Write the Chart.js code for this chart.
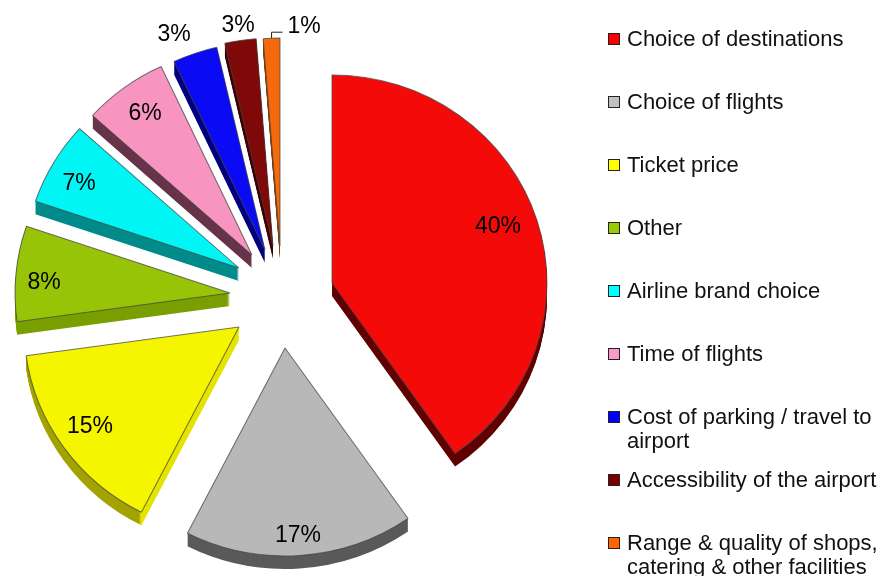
<!DOCTYPE html>
<html lang="en">
<head>
    <meta charset="UTF-8">
    <title>Reasons for choosing an airport</title>
    <script src="https://cdn.jsdelivr.net/npm/chart.js"></script>
    <style>
        body { margin: 0; background: #fff; }
        #wrap { position: relative; width: 880px; height: 576px; overflow: hidden; }
        #pieChart { display: block; }
        .legend-row { position: absolute; left: 608px; font: 22px/24px "Liberation Sans", Arial, sans-serif; color: #111; white-space: pre; }
        .legend-box { position: absolute; left: 0; top: 6px; width: 10px; height: 10px; border: 1.5px solid #222; }
        .legend-text { position: absolute; left: 19px; top: 0; }
    </style>
</head>
<body>

<div id="wrap">
    <canvas id="pieChart" width="880" height="576"></canvas>
    <div id="legend"></div>
</div>

<script>
    var labels = [
        "Choice of destinations",
        "Choice of flights",
        "Ticket price",
        "Other",
        "Airline brand choice",
        "Time of flights",
        "Cost of parking / travel to\nairport",
        "Accessibility of the airport",
        "Range & quality of shops,\ncatering & other facilities"
    ];
    // printed labels, and the slice sizes as they measure in the picture
    var shareLabels = ["40%", "17%", "15%", "8%", "7%", "6%", "3%", "3%", "1%"];
    var shares = [40.3, 17.2, 15.3, 7.4, 6.5, 6.35, 3.35, 2.35, 1.25];

    var sliceColors = ["#f50a0a", "#b8b8b8", "#f5f500", "#98c407", "#00f5f5", "#f794c0", "#0a0af5", "#7f0808", "#f56a0a"];
    var wallColors = ["#600000", "#5a5a5a", "#a3a300", "#7a9f00", "#008b8b", "#663348", "#000080", "#400000", "#8a3c00"];
    var legendColors = ["#ff0000", "#c0c0c0", "#ffff00", "#99cc00", "#00ffff", "#ff99cc", "#0000ff", "#800000", "#ff6600"];

    // how far each slice is pulled out of the pie, in px
    var pull = [[52, -12], [5, 53], [-41, 32], [-50, -2], [-41, -27], [-28, -40], [-15, -45], [-7, -49], [0, -49]];
    // where the % label sits, measured from the slice apex
    var labelPos = [[166, -58], [13, 186], [-149, 98], [-186, -12], [-160, -86], [-107, -143], [-91, -217], [-35, -222], [24, -221]];
    var depth = 13;
    // the pie is slightly wider than tall
    var squashX = 1.014;
    var squashY = 0.981;

    // moves the arcs out and draws the 3d side walls underneath them
    var explode3d = {
        id: "explode3d",
        afterDatasetsUpdate: function(chart) {
            chart.getDatasetMeta(0).data.forEach(function(arc, i) {
                arc.x += pull[i][0];
                arc.y += pull[i][1];
                var drawArc = arc.draw;
                arc.draw = function(ctx) {
                    ctx.save();
                    ctx.translate(arc.x, arc.y);
                    ctx.scale(squashX, squashY);
                    ctx.translate(-arc.x, -arc.y);
                    drawArc.call(arc, ctx);
                    ctx.restore();
                };
            });
        },
        beforeDatasetsDraw: function(chart) {
            var ctx = chart.ctx;
            chart.getDatasetMeta(0).data.forEach(function(arc, i) {
                var saved = arc.options;
                var wall = wallColors[i];
                if (i == 2) {
                    // ticket price wall is lit on its straight edge
                    var tipX = arc.x + arc.outerRadius * squashX * Math.cos(arc.startAngle);
                    wall = ctx.createLinearGradient(tipX - 1, 0, tipX + 1, 0);
                    wall.addColorStop(0, wallColors[i]);
                    wall.addColorStop(1, "#e4e400");
                }
                arc.options = Object.assign({}, saved, { backgroundColor: wall, borderWidth: 0 });
                for (var d = depth; d > 0; d--) {
                    ctx.save();
                    ctx.translate(0, d);
                    arc.draw(ctx);
                    ctx.restore();
                }
                arc.options = saved;
            });
        },
        afterDatasetsDraw: function(chart) {
            var ctx = chart.ctx;
            var arcs = chart.getDatasetMeta(0).data;
            ctx.save();
            ctx.fillStyle = "#000";
            ctx.font = '23px "Liberation Sans"';
            ctx.textAlign = "center";
            ctx.textBaseline = "middle";
            arcs.forEach(function(arc, i) {
                ctx.fillText(shareLabels[i], arc.x + labelPos[i][0], arc.y + labelPos[i][1] + 1.5);
            });

            // leader line of the last slice
            var last = arcs[arcs.length - 1];
            var mid = (last.startAngle + last.endAngle) / 2;
            var lx = last.x + last.outerRadius * squashX * Math.cos(mid);
            var ly = last.y + last.outerRadius * squashY * Math.sin(mid);
            ctx.strokeStyle = "#222";
            ctx.lineWidth = 1;
            ctx.beginPath();
            ctx.moveTo(lx, ly);
            ctx.lineTo(lx, ly - 6);
            ctx.lineTo(lx + 11, ly - 6);
            ctx.stroke();
            ctx.restore();
        }
    };

    new Chart(document.getElementById("pieChart"), {
        type: "pie",
        data: {
            labels: labels,
            datasets: [{
                data: shares,
                backgroundColor: sliceColors,
                borderColor: "rgba(70, 70, 70, 0.75)",
                borderWidth: 1,
                radius: 212
            }]
        },
        options: {
            responsive: false,
            animation: false,
            layout: { padding: { top: 14, right: 320 } },
            plugins: {
                legend: { display: false },
                tooltip: { enabled: false }
            }
        },
        plugins: [explode3d]
    });

    // legend rows are evenly spaced, two line entries just run into the gap
    var legend = document.getElementById("legend");
    labels.forEach(function(label, i) {
        var row = document.createElement("div");
        row.className = "legend-row";
        row.style.top = (27 + i * 63) + "px";
        var box = document.createElement("span");
        box.className = "legend-box";
        box.style.background = legendColors[i];
        var text = document.createElement("span");
        text.className = "legend-text";
        text.textContent = label;
        row.appendChild(box);
        row.appendChild(text);
        legend.appendChild(row);
    });
</script>

</body>
</html>
